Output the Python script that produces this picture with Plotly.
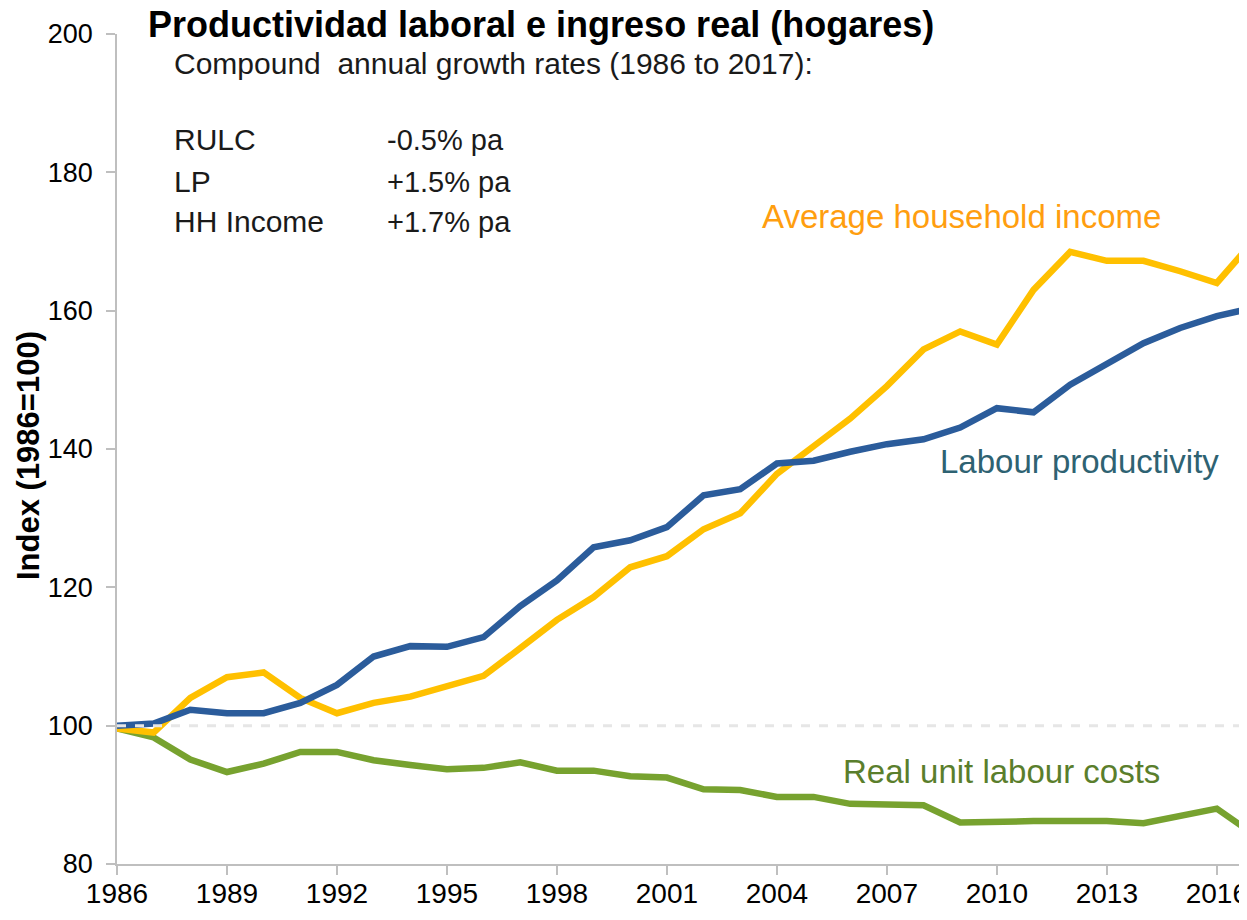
import plotly.graph_objects as go

years = list(range(1986, 2018))
labour_productivity = [100.0, 100.3, 102.3, 101.8, 101.8, 103.3, 105.9, 110.0, 111.5, 111.4, 112.8,
                       117.3, 121.0, 125.8, 126.8, 128.7, 133.3, 134.2, 137.9, 138.3, 139.6,
                       140.7, 141.4, 143.1, 145.9, 145.3, 149.3, 152.2, 155.3, 157.5, 159.2, 160.4]
household_income = [99.6, 99.0, 104.0, 107.0, 107.7, 104.0, 101.8, 103.3, 104.2, 105.8, 107.2,
                    111.2, 115.3, 118.6, 122.9, 124.5, 128.4, 130.7, 136.4, 140.4, 144.4,
                    149.1, 154.4, 157.0, 155.1, 163.0, 168.5, 167.2, 167.2, 165.7, 164.0, 170.1]
real_unit_labour_costs = [99.6, 98.3, 95.1, 93.3, 94.5, 96.2, 96.2, 95.0, 94.3, 93.7, 93.9,
                          94.7, 93.5, 93.5, 92.7, 92.5, 90.8, 90.7, 89.7, 89.7, 88.7,
                          88.5, 88.5, 86.0, 86.2, 86.2, 86.2, 86.2, 85.9, 87.0, 88.0, 84.3]
x_ticks = list(range(1986, 2017, 3))
y_ticks = [80, 100, 120, 140, 160, 180, 200]

table_names = ["RULC", "LP", "HH Income"]
table_rates = ["-0.5% pa", "+1.5% pa", "+1.7% pa"]

# page has an 8px body margin; target picture coordinates are shifted by OFF
OFF = 8
W, H = 1247 - OFF, 920 - OFF
L, R, T, B = 116.7 - OFF, 0, 34.3 - OFF, 920 - 864.3
PW, PH = W - L - R, H - T - B


def px(x):
    return (x - OFF - L) / PW


def py(y):
    return (H - B - (y - OFF)) / PH


FONT = "Liberation Sans, Arial, sans-serif"

fig = go.Figure()
fig.add_trace(go.Scatter(x=years, y=real_unit_labour_costs, mode="lines",
                         line=dict(color="#77A22F", width=6.5), name="RULC"))
fig.add_trace(go.Scatter(x=years, y=household_income, mode="lines",
                         line=dict(color="#FFC000", width=6.5), name="HH income"))
fig.add_trace(go.Scatter(x=years, y=labour_productivity, mode="lines",
                         line=dict(color="#2B5C9B", width=6.5), name="LP"))

fig.add_shape(type="line", xref="paper", yref="y", x0=0, x1=1, y0=100, y1=100,
              line=dict(color="#E6E6E6", width=3, dash="dash"), layer="above")

ann = []
ann.append(dict(text="Compound  annual growth rates (1986 to 2017):", x=px(172), y=py(64),
                xanchor="left", yanchor="middle", font=dict(size=30, color="#1a1a1a")))
for i, (n, r) in enumerate(zip(table_names, table_rates)):
    yy = [140, 182, 222][i]
    ann.append(dict(text=n, x=px(172), y=py(yy), xanchor="left", yanchor="middle",
                    font=dict(size=30, color="#1a1a1a")))
    ann.append(dict(text=r, x=px(385), y=py(yy), xanchor="left", yanchor="middle",
                    font=dict(size=29, color="#1a1a1a")))
ann.append(dict(text="Average household income", x=px(760), y=py(217), xanchor="left",
                yanchor="middle", font=dict(size=33, color="#FF9E0F")))
ann.append(dict(text="Labour productivity", x=px(938), y=py(462), xanchor="left",
                yanchor="middle", font=dict(size=33, color="#2E6272")))
ann.append(dict(text="Real unit labour costs", x=px(841), y=py(772), xanchor="left",
                yanchor="middle", font=dict(size=33, color="#5A7E2C")))
ann.append(dict(text="<b>Index (1986=100)</b>", x=px(28), y=py(456), xanchor="center",
                yanchor="middle", textangle=-90, font=dict(size=31, color="#000000")))
for a in ann:
    a.update(xref="paper", yref="paper", showarrow=False)
    a["font"].setdefault("family", FONT)

fig.update_layout(
    width=W, height=H,
    margin=dict(l=L, r=R, t=T, b=B, pad=0),
    paper_bgcolor="white", plot_bgcolor="white",
    showlegend=False,
    font=dict(family=FONT, size=28, color="#000000"),
    title=dict(text="<b>Productividad laboral e ingreso real (hogares)</b>",
               xref="container", yref="container", x=(148 - OFF) / W, y=1 - (24 - OFF) / H,
               xanchor="left", yanchor="middle",
               font=dict(size=36, color="#000000", family=FONT)),
    annotations=ann,
    xaxis=dict(range=[1986, 1986 + PW / 36.67], tickmode="array", tickvals=x_ticks,
               ticks="outside", ticklen=9, tickcolor="#BFBFBF", tickwidth=1.5,
               showline=True, linecolor="#BFBFBF", linewidth=1.5, showgrid=False,
               zeroline=False, tickfont=dict(size=28), ticklabeloverflow="allow",
               ticklabelstandoff=-5),
    yaxis=dict(range=[80, 200], tickmode="array", tickvals=y_ticks,
               ticks="outside", ticklen=9, tickcolor="#BFBFBF", tickwidth=1.5,
               showline=True, linecolor="#BFBFBF", linewidth=1.5, showgrid=False,
               zeroline=False, tickfont=dict(size=27), ticklabelstandoff=8),
)

fig.write_html("out.html")
